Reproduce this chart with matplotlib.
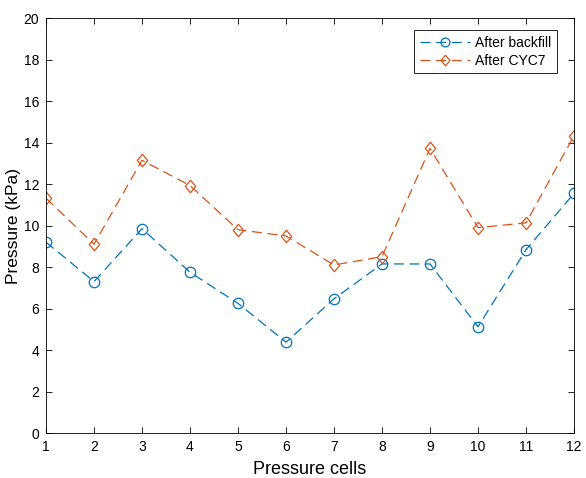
import numpy as np
import matplotlib.pyplot as plt

plt.rcParams['font.family'] = ['Liberation Sans', 'DejaVu Sans']

cells = np.arange(1, 13)
after_backfill = [9.2, 7.3, 9.85, 7.75, 6.25, 4.38, 6.47, 8.15, 8.15, 5.12, 8.83, 11.55]
after_cyc7 = [11.32, 9.1, 13.15, 11.93, 9.8, 9.5, 8.1, 8.5, 13.72, 9.9, 10.13, 14.33]

blue = '#0072BD'
orange = '#D95319'

# MATLAB-like diamond, a bit narrower than tall
diamond = [(0, 1), (0.83, 0), (0, -1), (-0.83, 0), (0, 1)]
dash = (0, (8, 4.5))

fig = plt.figure(figsize=(5.86, 4.78), dpi=100)
ax = fig.add_axes([0.0785, 0.0941, 0.901, 0.868])

ax.plot(cells, after_backfill, linestyle=dash, color=blue, linewidth=0.9,
        marker='o', markersize=7.5, markerfacecolor='none', markeredgewidth=0.9,
        label='After backfill')
ax.plot(cells, after_cyc7, linestyle=dash, color=orange, linewidth=0.9,
        marker=diamond, markersize=9, markerfacecolor='none', markeredgewidth=0.9,
        label='After CYC7')

ax.set_xlim(1, 12)
ax.set_ylim(0, 20)
ax.set_xticks(cells)
ax.set_yticks(np.arange(0, 21, 2))
ax.tick_params(direction='in', length=4, width=0.6, labelsize=10,
               top=True, right=True, pad=5)
for s in ax.spines.values():
    s.set_linewidth(0.6)

ax.set_xlabel('Pressure cells', fontsize=13, labelpad=5)
ax.set_ylabel('Pressure (kPa)', fontsize=12.5, labelpad=2)

leg = ax.legend(loc='upper right', bbox_to_anchor=(0.968, 0.971), borderaxespad=0,
                fontsize=10, fancybox=False, edgecolor='black', framealpha=1,
                handlelength=3.6, borderpad=0.4, labelspacing=0.3,
                handletextpad=0.4, markerscale=0.85)
leg.get_frame().set_linewidth(0.6)

fig.savefig('out.png', dpi=100)
